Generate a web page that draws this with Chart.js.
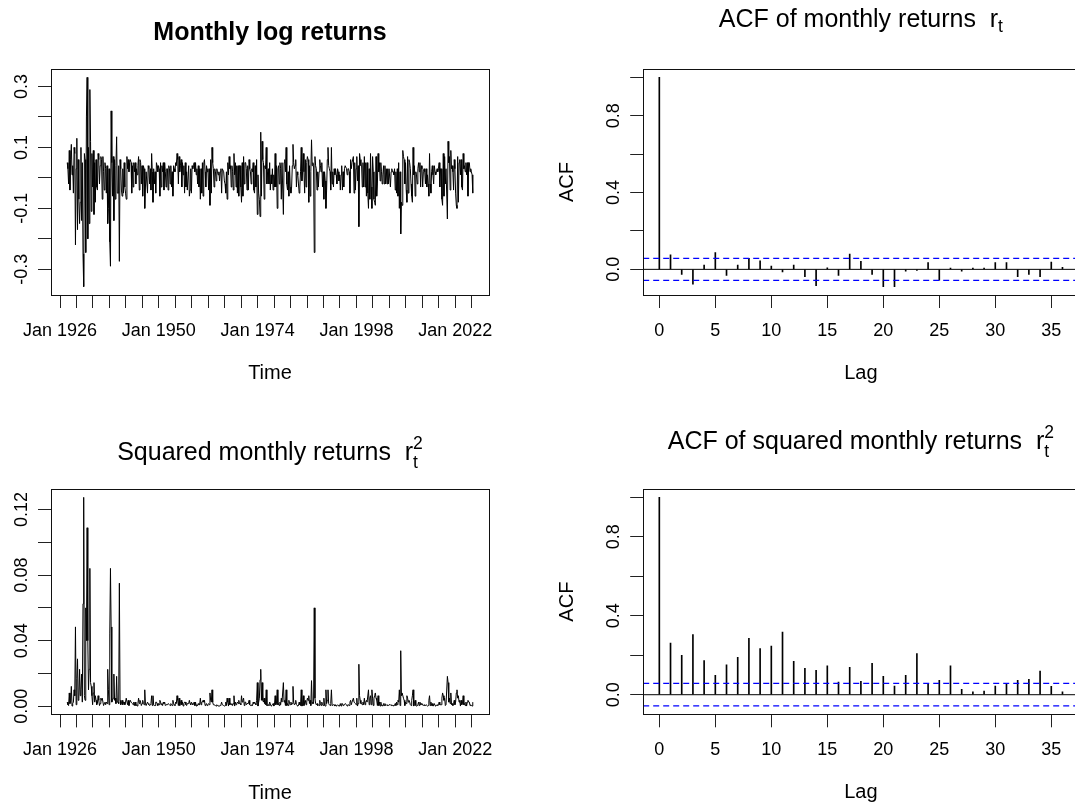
<!DOCTYPE html>
<html>
<head>
<meta charset="utf-8">
<title>Monthly log returns</title>
<script src="https://cdn.jsdelivr.net/npm/chart.js@4.4.1/dist/chart.umd.min.js"></script>
<style>
html, body { margin: 0; padding: 0; background: #fff; overflow: hidden; width: 1075px; height: 807px; }
.panel { position: absolute; }
canvas { display: block; }
</style>
</head>
<body>
<div class="panel" style="left:0px;top:0px"><canvas id="retChart" width="537" height="403"></canvas></div>
<div class="panel" style="left:537px;top:0px"><canvas id="acfChart" width="545" height="403"></canvas></div>
<div class="panel" style="left:0px;top:403px"><canvas id="sqChart" width="537" height="404"></canvas></div>
<div class="panel" style="left:537px;top:403px"><canvas id="acfSqChart" width="545" height="404"></canvas></div>
<script>
var FONT = '"Liberation Sans", Arial, Helvetica, sans-serif';

// monthly log returns, one reading every two months, first point 1927.75
var startYear = 1927.75;
var stepYears = 1 / 6;
var logReturns = [
    0.05, 0.03,                                   // 1927
    -0.02, 0.09, -0.04, 0.06, 0.11, 0.01,         // 1928
    0.04, -0.05, 0.1, 0.08, -0.22, 0.03,
    0.13, -0.17, 0.06, -0.07, -0.15, -0.08,       // 1930
    0.1, -0.14, 0.05, -0.25, -0.357, 0.08,
    0.06, -0.245, 0.2, 0.33, -0.2, 0.1,
    -0.15, 0.29, 0.12, -0.11, 0.08, -0.03,
    0.09, -0.12, 0.05, -0.08, 0.06, -0.03,
    -0.04, 0.08, 0.06, -0.02, 0.04, 0.07,         // 1935
    0.06, -0.07, 0.07, 0.02, -0.04, 0.05,
    0.03, -0.05, 0.04, -0.15, -0.1, 0.03,
    -0.21, -0.29, 0.22, 0.05, -0.06, 0.07,
    -0.14, 0.06, -0.07, 0.04, 0.135, -0.05,
    -0.05, 0.04, -0.274, 0.06, 0.03, -0.04,       // 1940
    -0.06, 0.03, -0.05, 0.05, -0.03, -0.05,
    -0.07, 0.07, 0.03, 0.06, 0.02, 0.05,
    0.06, 0.05, -0.05, 0.04, -0.03, 0.05,
    0.02, 0.05, -0.02, 0.03, 0.01, 0.04,
    0.07, -0.04, 0.06, 0.05, -0.02, 0.04,         // 1945
    -0.06, 0.04, 0.03, -0.1, -0.03, 0.02,
    0.02, -0.05, 0.04, 0.03, -0.02, 0.03,
    -0.04, 0.08, 0.02, -0.08, 0.03, -0.02,
    0.02, -0.05, 0.05, 0.04, 0.02, 0.04,
    0.03, -0.06, 0.05, -0.03, 0.04, 0.02,         // 1950
    0.05, -0.04, 0.05, 0.02, -0.03, 0.03,
    0.03, -0.04, 0.04, 0.03, -0.02, 0.04,
    -0.03, 0.02, -0.06, 0.04, 0.03, 0.02,
    0.05, 0.04, 0.08, 0.06, -0.02, 0.07,
    0.02, 0.04, 0.06, -0.03, 0.05, 0.01,          // 1955
    0.04, -0.05, 0.05, -0.03, 0.02, -0.04,
    -0.04, 0.04, -0.06, -0.04, 0.03, -0.05,
    0.04, 0.03, 0.04, 0.05, 0.02, 0.05,
    0.01, 0.03, -0.02, 0.04, -0.03, 0.03,
    -0.07, 0.03, -0.05, 0.05, -0.06, 0.05,        // 1960
    0.06, 0.02, -0.03, 0.04, 0.02, 0.03,
    -0.04, 0.03, -0.09, 0.06, -0.05, 0.1,
    0.05, 0.03, -0.03, 0.03, 0.02, -0.01,
    0.03, 0.02, 0.01, 0.02, -0.01, 0.02,
    0.03, -0.05, 0.03, 0.03, 0.02, -0.01,         // 1965
    -0.02, -0.05, 0.02, -0.07, 0.05, 0.01,
    0.07, 0.03, 0.04, -0.03, 0.04, 0.02,
    -0.04, 0.08, 0.01, 0.05, -0.03, 0.04,
    -0.05, 0.04, -0.06, 0.04, 0.04, -0.03,
    -0.08, 0.05, -0.06, 0.07, -0.02, 0.05,        // 1970
    0.05, 0.03, -0.04, 0.04, -0.04, 0.06,
    0.03, 0.02, -0.02, 0.03, 0.02, 0.05,
    -0.04, -0.05, 0.04, -0.03, 0.06, -0.12,
    0.01, -0.05, -0.07, -0.127, 0.15, -0.06,
    0.12, 0.06, 0.05, -0.07, 0.04, 0.03,          // 1975
    0.1, -0.02, 0.02, 0.03, -0.02, 0.05,
    -0.04, 0.01, -0.02, 0.03, -0.04, 0.01,
    -0.03, 0.08, -0.03, 0.04, -0.1, 0.03,
    0.04, -0.02, 0.05, 0.03, -0.07, 0.05,
    0.05, -0.12, 0.05, 0.06, 0.02, 0.1,           // 1980
    -0.02, -0.04, 0.02, -0.06, 0.04, -0.03,
    -0.05, -0.03, 0.04, 0.11, 0.05, 0.03,
    0.04, 0.06, -0.03, 0.02, 0.01, -0.02,
    -0.05, -0.03, 0.02, 0.1, -0.01, 0.02,
    0.08, 0.02, -0.05, 0.06, -0.03, 0.05,         // 1985
    0.07, 0.06, -0.08, 0.04, -0.06, 0.02,
    0.125, 0.04, 0.05, 0.04, -0.245, 0.07,
    0.04, 0.03, -0.04, 0.02, -0.03, 0.02,
    0.06, 0.04, 0.02, 0.05, -0.03, 0.02,
    -0.07, 0.02, -0.01, -0.1, -0.04, 0.06,        // 1990
    0.1, 0.04, 0.03, 0.02, -0.04, 0.1,
    -0.02, 0.02, -0.03, 0.03, 0.01, 0.03,
    0.01, -0.02, 0.03, 0.02, -0.01, 0.01,
    -0.04, 0.01, 0.04, -0.04, 0.02, -0.03,
    0.03, 0.04, 0.04, 0.03, 0.01, 0.03,           // 1995
    0.03, 0.02, -0.05, 0.06, 0.03, 0.05,
    0.05, 0.07, -0.05, 0.05, -0.04, 0.03,
    0.07, -0.01, 0.04, -0.16, 0.08, 0.06,
    0.04, 0.04, -0.03, 0.05, -0.03, 0.07,
    -0.03, 0.05, -0.06, 0.05, -0.05, -0.1,        // 2000
    0.03, -0.07, 0.08, -0.03, -0.1, 0.07,
    0.02, -0.07, -0.08, -0.09, 0.07, -0.06,
    -0.02, 0.08, 0.02, 0.05, -0.01, 0.05,
    0.02, -0.02, 0.01, 0.04, -0.02, 0.04,
    -0.02, 0.03, -0.02, 0.03, -0.02, 0.03,        // 2005
    0.03, -0.03, 0.02, 0.03, 0.02, 0.02,
    0.01, 0.03, -0.04, 0.02, -0.05, 0.03,
    -0.06, 0.05, -0.1, 0.02, -0.184, -0.08,
    -0.09, 0.09, 0.07, 0.06, -0.02, 0.05,
    -0.04, -0.08, 0.07, -0.05, 0.06, 0.05,        // 2010
    0.03, -0.02, -0.06, -0.08, 0.1, 0.01,
    0.04, -0.06, 0.02, 0.01, -0.02, 0.03,
    0.05, 0.02, 0.05, -0.03, 0.04, 0.03,
    -0.03, 0.02, 0.03, 0.02, -0.02, 0.03,
    -0.03, 0.01, -0.02, -0.06, 0.08, -0.02,       // 2015
    -0.05, 0.02, 0.04, 0.01, -0.02, 0.04,
    0.02, 0.01, 0.02, 0.03, 0.02, 0.03,
    0.05, -0.03, 0.03, 0.03, -0.07, -0.09,
    0.08, -0.06, 0.07, -0.02, 0.03, 0.03,
    -0.135, 0.12, 0.05, 0.07, -0.04, 0.09,        // 2020
    0.03, 0.04, 0.02, -0.04, 0.06, 0.03,
    -0.05, -0.09, -0.1, 0.07, -0.08, 0.05,
    0.06, 0.01, 0.06, -0.03, -0.04, 0.08,
    0.03, 0.04, 0.02, 0.05, 0.01, 0.05,
    -0.06, 0.05, 0.05, 0.02, 0.03, 0.02,          // 2025
    0.01, -0.05
];

var timeTicks = [1926, 1930, 1934, 1938, 1942, 1946, 1950, 1954, 1958, 1962, 1966, 1970, 1974,
                 1978, 1982, 1986, 1990, 1994, 1998, 2002, 2006, 2010, 2014, 2018, 2022, 2026];
var labelledYears = [1926, 1950, 1974, 1998, 2022];

var retTicks = [-0.3, -0.2, -0.1, 0, 0.1, 0.2, 0.3];
var retTickLabels = ['-0.3', '', '-0.1', '', '0.1', '', '0.3'];
var sqTicks = [0, 0.02, 0.04, 0.06, 0.08, 0.1, 0.12];
var sqTickLabels = ['0.00', '', '0.04', '', '0.08', '', '0.12'];

// autocorrelations, lags 0..36
var lags = [0, 1, 2, 3, 4, 5, 6, 7, 8, 9, 10, 11, 12, 13, 14, 15, 16, 17, 18,
            19, 20, 21, 22, 23, 24, 25, 26, 27, 28, 29, 30, 31, 32, 33, 34, 35, 36];
var acfReturns = [1, 0.075, -0.026, -0.077, 0.022, 0.087, -0.031, 0.022, 0.057, 0.045,
                  0.017, -0.014, 0.022, -0.038, -0.085, 0.008, -0.031, 0.08, 0.042, -0.026,
                  -0.09, -0.09, -0.009, -0.005, 0.035, -0.056, 0.006, -0.01, 0.006, 0.006,
                  0.035, 0.035, -0.038, -0.026, -0.038, 0.038, 0.01];
var acfSquared = [1, 0.261, 0.2, 0.305, 0.173, 0.098, 0.151, 0.19, 0.286, 0.234,
                  0.247, 0.317, 0.169, 0.134, 0.124, 0.146, 0.064, 0.139, 0.068, 0.159,
                  0.093, 0.044, 0.098, 0.208, 0.058, 0.073, 0.146, 0.027, 0.014, 0.019,
                  0.044, 0.054, 0.073, 0.078, 0.12, 0.042, 0.015];
var ciBound = 0.057;
var lagTicks = [0, 5, 10, 15, 20, 25, 30, 35];
var acfTicks = [0, 0.2, 0.4, 0.6, 0.8, 1.0];
var acfTickLabels = ['0.0', '', '0.4', '', '0.8', ''];

// R style range: data range stretched by 4% each side
function paddedRange(values) {
    var lo = Math.min.apply(null, values), hi = Math.max.apply(null, values);
    var d = (hi - lo) * 0.04;
    return [lo - d, hi + d];
}

// box, rotated y tick labels and plotmath-like titles
var rPanel = {
    id: 'rPanel',
    afterDraw: function (chart, args, opts) {
        var ctx = chart.ctx, a = chart.chartArea;
        ctx.save();
        ctx.strokeStyle = '#111';
        ctx.lineWidth = 1;
        var l = Math.floor(a.left) + 0.5, t = Math.floor(a.top) + 0.5;
        var r = Math.floor(a.right) + 0.5, b = Math.floor(a.bottom) + 0.5;
        ctx.strokeRect(l, t, r - l, b - t);

        var ys = chart.scales.y;
        ctx.fillStyle = '#000';
        ctx.font = '18px ' + FONT;
        ctx.textAlign = 'center';
        ctx.textBaseline = 'alphabetic';
        ys.ticks.forEach(function (tk, i) {
            var lab = opts.yLabels[i];
            if (!lab) return;
            ctx.save();
            ctx.translate(a.left - 24, ys.getPixelForValue(tk.value));
            ctx.rotate(-Math.PI / 2);
            ctx.fillText(lab, 0, 0);
            ctx.restore();
        });

        var tt = opts.title;
        var base = a.top + tt.dy;
        var big = (tt.bold ? 'bold ' : '') + '25px ' + FONT;
        var small = '17.5px ' + FONT;
        ctx.font = big;
        var wText = ctx.measureText(tt.text).width;
        var wSym = tt.sym ? ctx.measureText(tt.sym).width : 0;
        ctx.font = small;
        var wIdx = 0;
        if (tt.sub) wIdx = Math.max(wIdx, ctx.measureText(tt.sub).width);
        if (tt.sup) wIdx = Math.max(wIdx, ctx.measureText(tt.sup).width);
        var x = (a.left + a.right) / 2 - (wText + wSym + wIdx) / 2;
        ctx.textAlign = 'left';
        ctx.font = big;
        ctx.fillText(tt.text, x, base);
        if (tt.sym) {
            ctx.fillText(tt.sym, x + wText, base);
            ctx.font = small;
            if (tt.sub) ctx.fillText(tt.sub, x + wText + wSym, base + (tt.sup ? 8 : 5));
            if (tt.sup) ctx.fillText(tt.sup, x + wText + wSym, base - 11);
        }
        ctx.restore();
    }
};

function buildPanel(canvasId, box, spec) {
    var canvas = document.getElementById(canvasId);
    var W = canvas.width, H = canvas.height;
    var tickGrid = { offset: false, drawOnChartArea: false, drawTicks: true, tickLength: 13, tickColor: '#222', tickWidth: 1 };
    return new Chart(canvas, {
        type: spec.type,
        data: { datasets: spec.datasets },
        plugins: [rPanel],
        options: {
            responsive: false,
            animation: false,
            devicePixelRatio: 1,
            layout: { padding: { left: 0, top: box.top, right: W - box.right, bottom: 0 } },
            plugins: {
                legend: { display: false },
                tooltip: { enabled: false },
                rPanel: { title: spec.title, yLabels: spec.yLabels }
            },
            scales: {
                x: {
                    type: 'linear',
                    min: spec.xRange[0],
                    max: spec.xRange[1],
                    offset: false,
                    afterBuildTicks: function (s) { s.ticks = spec.xTicks.map(function (v) { return { value: v }; }); },
                    afterFit: function (s) { s.height = H - box.bottom; },
                    ticks: {
                        autoSkip: false, maxRotation: 0, minRotation: 0, padding: 12,
                        color: '#000', font: { family: FONT, size: 18 },
                        callback: spec.xLabel
                    },
                    grid: tickGrid,
                    border: { display: false },
                    title: {
                        display: true, text: spec.xTitle, color: '#000',
                        font: { family: FONT, size: 20 },
                        padding: { top: 0, bottom: (H - box.bottom) - 78.6 - 12 }
                    }
                },
                y: {
                    type: 'linear',
                    min: spec.yRange[0],
                    max: spec.yRange[1],
                    afterBuildTicks: function (s) { s.ticks = spec.yTicks.map(function (v) { return { value: v }; }); },
                    afterFit: function (s) { s.width = box.left; },
                    ticks: { display: false },
                    grid: tickGrid,
                    border: { display: false },
                    title: spec.yTitle ? {
                        display: true, text: spec.yTitle, color: '#000',
                        font: { family: FONT, size: 20 },
                        padding: { top: box.left - 76.2 - 12, bottom: 0 }
                    } : { display: false }
                }
            }
        }
    });
}

var retPoints = logReturns.map(function (v, i) { return { x: startYear + i * stepYears, y: v }; });
var sqPoints = logReturns.map(function (v, i) { return { x: startYear + i * stepYears, y: v * v }; });
var timeRange = paddedRange([startYear, startYear + (logReturns.length - 1) * stepYears]);
var timeLabel = function (v) { return labelledYears.indexOf(v) >= 0 ? 'Jan ' + v : ''; };

function seriesLine(points) {
    return { type: 'line', data: points, borderColor: '#000', borderWidth: 1, pointRadius: 0, tension: 0, fill: false };
}

function acfDatasets(values, xr) {
    var bars = lags.map(function (l, i) { return { x: l, y: values[i] }; });
    var hline = function (y, color, dash) {
        return { type: 'line', data: [{ x: xr[0], y: y }, { x: xr[1], y: y }], borderColor: color,
                 borderWidth: dash ? 1.3 : 1, borderDash: dash || [], pointRadius: 0, fill: false };
    };
    return [
        hline(ciBound, '#0000ff', [6, 4]),
        hline(-ciBound, '#0000ff', [6, 4]),
        hline(0, '#000', null),
        { type: 'bar', data: bars, backgroundColor: '#000', borderWidth: 0, barThickness: 1 }
    ];
}

var lagRange = paddedRange(lags);
var lagLabel = function (v) { return String(v); };

buildPanel('retChart', { left: 51, top: 69, right: 489, bottom: 295 }, {
    type: 'line',
    datasets: [seriesLine(retPoints)],
    xRange: timeRange, xTicks: timeTicks, xLabel: timeLabel, xTitle: 'Time',
    yRange: paddedRange(logReturns), yTicks: retTicks, yLabels: retTickLabels,
    title: { text: 'Monthly log returns', bold: true, dy: -29 }
});

buildPanel('acfChart', { left: 106.2, top: 69, right: 541.6, bottom: 295 }, {
    type: 'bar',
    datasets: acfDatasets(acfReturns, lagRange),
    xRange: lagRange, xTicks: lagTicks, xLabel: lagLabel, xTitle: 'Lag',
    yRange: paddedRange(acfReturns.concat([ciBound, -ciBound])), yTicks: acfTicks, yLabels: acfTickLabels,
    yTitle: 'ACF',
    title: { text: 'ACF of monthly returns  ', sym: 'r', sub: 't', dy: -42 }
});

buildPanel('sqChart', { left: 51, top: 86, right: 489, bottom: 311.4 }, {
    type: 'line',
    datasets: [seriesLine(sqPoints)],
    xRange: timeRange, xTicks: timeTicks, xLabel: timeLabel, xTitle: 'Time',
    yRange: paddedRange(sqPoints.map(function (p) { return p.y; })), yTicks: sqTicks, yLabels: sqTickLabels,
    title: { text: 'Squared monthly returns  ', sym: 'r', sub: 't', sup: '2', dy: -29 }
});

buildPanel('acfSqChart', { left: 106.2, top: 86, right: 541.6, bottom: 311.3 }, {
    type: 'bar',
    datasets: acfDatasets(acfSquared, lagRange),
    xRange: lagRange, xTicks: lagTicks, xLabel: lagLabel, xTitle: 'Lag',
    yRange: paddedRange(acfSquared.concat([ciBound, -ciBound])), yTicks: acfTicks, yLabels: acfTickLabels,
    yTitle: 'ACF',
    title: { text: 'ACF of squared monthly returns  ', sym: 'r', sub: 't', sup: '2', dy: -40.5 }
});
</script>
</body>
</html>
